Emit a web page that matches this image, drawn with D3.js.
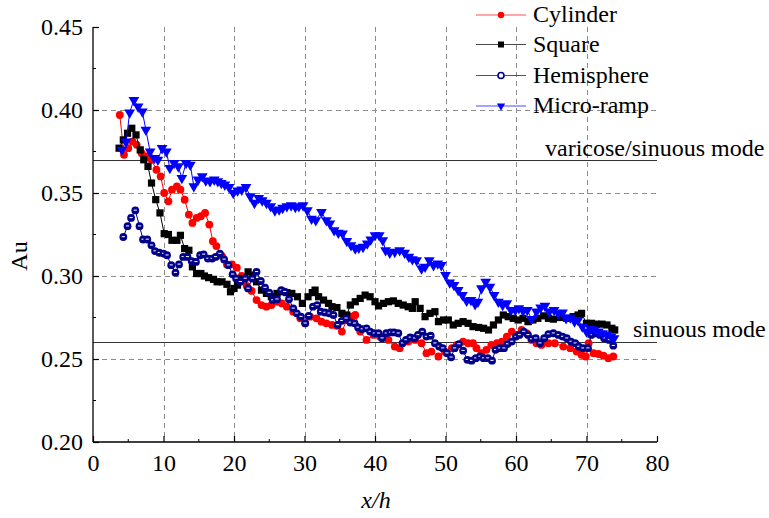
<!DOCTYPE html>
<html><head><meta charset="utf-8">
<script src="https://cdn.jsdelivr.net/npm/d3@7"></script>
<style>body{margin:0;background:#fff}svg{display:block}svg text{font-family:"Liberation Serif","Times New Roman",serif !important;fill:#000}</style>
</head><body>
<script>
const cylX=[3.8,4.4,5.0,5.6,6.2,6.9,7.5,8.3,9.0,9.6,10.1,10.7,11.2,11.9,12.4,13.0,13.6,14.1,14.7,15.3,15.9,16.5,17.0,17.5,18.3,19.0,19.7,20.4,21.1,21.8,22.5,23.2,23.9,24.6,25.3,26.1,26.8,27.5,28.4,29.4,30.1,30.8,31.7,32.4,33.1,33.9,34.6,35.3,36.0,36.7,37.2,37.9,38.8,39.8,40.7,41.9,42.8,43.5,44.7,45.7,46.6,47.3,48.0,49.0,49.9,50.9,51.6,52.5,53.2,53.9,54.4,55.1,55.8,56.5,57.3,58.0,58.7,59.4,60.1,60.8,61.5,62.2,62.9,63.6,64.6,65.5,66.7,67.7,68.6,69.3,69.9,70.3,71.0,71.7,72.4,73.1,73.8];
const cylY=[.397,.373,.377,.381,.379,.374,.372,.370,.364,.360,.350,.345,.352,.354,.352,.346,.337,.332,.335,.336,.338,.331,.321,.318,.312,.307,.307,.305,.300,.294,.291,.2855,.2825,.2815,.2825,.2845,.2835,.2815,.2785,.2745,.2715,.2755,.2745,.2725,.2715,.2705,.270,.2665,.2735,.2755,.2765,.2665,.2615,.2645,.2635,.2615,.2575,.2565,.2605,.2615,.2595,.2535,.2545,.2515,.2545,.2565,.2585,.2605,.2595,.2595,.2565,.2535,.2555,.2585,.2595,.2605,.2635,.2665,.2645,.2675,.2655,.2615,.2595,.2585,.2595,.2595,.2575,.2565,.2545,.2525,.2515,.2595,.2535,.253,.252,.2505,.2515];
const sqX=[3.7,4.3,4.9,5.5,6.1,6.7,7.2,7.8,8.3,8.9,9.5,10.1,10.7,11.2,11.9,12.4,13.0,13.6,14.1,14.7,15.3,15.8,16.4,17.1,17.6,18.3,19.0,19.5,20.0,20.5,21.2,22.0,22.6,23.2,23.9,24.6,25.3,26.1,26.8,27.5,28.2,29.0,29.7,30.5,31.1,31.5,32.0,32.7,33.4,33.9,34.6,35.3,36.0,36.5,37.2,37.9,38.6,39.3,40.0,40.5,41.2,41.9,42.6,43.3,44.0,44.7,45.3,45.7,46.4,47.1,47.8,48.5,49.0,49.7,50.4,51.1,51.8,52.5,53.2,53.9,54.7,55.4,56.1,56.8,57.5,58.2,58.9,59.6,60.3,61.0,61.7,62.4,63.1,63.9,64.6,65.3,66.2,67.2,68.1,68.8,69.3,70.0,70.7,71.4,72.2,72.9,73.6,74.0];
const sqY=[.377,.382,.386,.389,.385,.376,.370,.366,.356,.346,.338,.3255,.325,.3215,.3215,.3245,.3165,.3155,.3055,.3015,.3015,.300,.299,.298,.2965,.2965,.295,.2905,.2925,.2945,.2985,.3025,.3005,.2965,.2915,.2895,.2875,.2895,.2905,.290,.2895,.2875,.2835,.2875,.290,.2915,.2875,.2855,.2835,.2815,.281,.2775,.2765,.2825,.2845,.2865,.2885,.2875,.2845,.282,.2835,.2845,.285,.2835,.2825,.2815,.2805,.2845,.2805,.2755,.2775,.2785,.2725,.2735,.2735,.2705,.2715,.2725,.2715,.2695,.269,.2685,.2675,.2705,.2735,.2765,.2755,.2745,.2735,.2745,.2725,.2735,.2745,.276,.2745,.274,.275,.2745,.2755,.2765,.2775,.2715,.2715,.271,.271,.2705,.2685,.2675];
const hemX=[4.3,4.9,5.4,6.0,6.6,7.1,7.7,8.3,8.8,9.4,10.0,10.5,11.1,11.7,12.2,12.8,13.4,14.0,14.6,15.2,15.7,16.3,16.9,17.4,18.0,18.6,19.2,19.8,20.3,20.9,21.6,22.0,22.6,23.2,23.8,24.4,25.0,25.5,26.1,26.7,27.2,27.8,28.4,28.9,29.5,30.1,30.6,31.2,31.8,32.3,32.9,33.5,34.1,34.7,35.3,35.9,36.5,37.1,37.6,38.2,38.8,39.3,39.9,40.5,41.0,41.6,42.2,42.7,43.3,43.9,44.4,45.0,45.6,46.1,46.7,47.3,47.9,48.5,49.1,49.6,50.2,50.8,51.3,51.9,52.5,53.1,53.7,54.3,54.9,55.4,56.0,56.6,57.1,57.7,58.3,58.8,59.4,60.0,60.5,61.1,61.7,62.2,62.8,63.4,64.0,64.6,65.3,66.0,66.6,67.2,67.8,68.4,68.9,69.5,70.2,70.7,71.3,71.9,72.5,73.2,73.8];
const hemY=[.3235,.330,.335,.3395,.330,.322,.322,.3185,.315,.314,.3135,.3125,.3065,.302,.307,.3115,.3115,.309,.3085,.3125,.313,.3105,.3105,.3115,.3135,.310,.3065,.301,.2985,.2965,.2985,.2925,.2985,.3025,.297,.293,.290,.2855,.286,.2915,.2905,.286,.2805,.2775,.2755,.2715,.276,.2815,.2825,.2785,.278,.2775,.2765,.2705,.273,.2745,.272,.2715,.269,.268,.2685,.2665,.2655,.2655,.2625,.2655,.266,.266,.2655,.2595,.2615,.263,.2625,.2645,.2665,.2635,.264,.2595,.2575,.2565,.2535,.251,.2565,.259,.255,.2495,.249,.2505,.2515,.2505,.2505,.249,.2555,.2565,.2565,.259,.2605,.2635,.2645,.2665,.2645,.262,.2625,.2595,.2625,.265,.2655,.2645,.2635,.2625,.2605,.2595,.2575,.2565,.2565,.2645,.2655,.2645,.2625,.2615,.258];
const mrX=[4.1,4.7,5.2,5.8,6.4,7.0,7.5,8.1,8.7,9.2,9.8,10.4,10.9,11.5,12.1,12.6,13.2,13.8,14.3,14.9,15.5,16.0,16.6,17.2,17.7,18.2,18.7,19.3,19.9,20.5,21.1,21.7,22.3,22.9,23.5,24.0,24.6,25.2,25.8,26.4,26.9,27.5,28.1,28.7,29.2,29.8,30.4,31.0,31.6,32.4,33.1,33.6,34.2,34.8,35.4,36.0,36.6,37.2,37.7,38.3,38.9,39.4,40.0,40.6,41.1,41.5,42.1,42.8,43.5,44.2,44.8,45.3,45.9,46.6,47.1,47.7,48.3,48.9,49.4,50.0,50.6,51.2,51.8,52.4,53.0,53.6,54.2,54.6,55.1,55.7,56.3,56.9,57.5,58.1,58.7,59.3,59.9,60.4,61.0,61.6,62.2,62.9,63.5,64.1,64.7,65.4,66.0,66.6,67.1,67.7,68.3,68.8,69.4,70.0,70.6,71.1,71.7,72.3,72.9,73.5,73.9];
const mrY=[.376,.381,.3985,.406,.402,.399,.388,.375,.371,.370,.377,.375,.365,.368,.366,.359,.368,.367,.354,.358,.360,.3575,.357,.358,.357,.356,.355,.3535,.350,.3515,.352,.3535,.348,.344,.347,.3455,.344,.342,.3395,.340,.341,.342,.3425,.3415,.342,.3425,.3395,.3345,.3335,.3385,.3335,.3315,.3275,.326,.3255,.321,.3185,.3165,.317,.3175,.3195,.322,.3245,.3245,.3215,.3155,.314,.3145,.3155,.314,.3115,.310,.3095,.3045,.3055,.3095,.3065,.3075,.3065,.3005,.296,.2945,.2915,.2885,.285,.2855,.283,.2845,.2925,.2965,.2935,.2885,.2845,.2825,.2835,.2795,.2795,.2805,.279,.2795,.274,.2785,.281,.282,.2785,.2795,.2775,.278,.2745,.275,.2725,.2735,.2695,.2665,.268,.2675,.2665,.2655,.2645,.2635,.2625];
const seriesNames=["Cylinder","Square","Hemisphere","Micro-ramp"];
const xTicks=[0,10,20,30,40,50,60,70,80];
const yTicks=[0.20,0.25,0.30,0.35,0.40,0.45];
const refLevels=[0.37,0.26];
const refLabels=["varicose/sinuous mode","sinuous mode"];

const W=769,H=518,FS=24;
const svg=d3.select("body").append("svg").attr("width",W).attr("height",H);
const x=d3.scaleLinear().domain([0,80]).range([93,657]);
const y=d3.scaleLinear().domain([0.20,0.45]).range([442,27]);

// grid
const g=svg.append("g");
g.selectAll(".vg").data(xTicks.filter(t=>t>0&&t<80)).join("line")
 .attr("x1",d=>Math.round(x(d))+0.5).attr("x2",d=>Math.round(x(d))+0.5).attr("y1",y(0.45)).attr("y2",y(0.20))
 .attr("stroke","#8c8c8c").attr("stroke-width",1).attr("stroke-dasharray","5,4");
g.selectAll(".hg").data(yTicks.filter(t=>t>0.2&&t<0.45)).join("line")
 .attr("x1",x(0)).attr("x2",x(80)).attr("y1",d=>Math.round(y(d))+0.5).attr("y2",d=>Math.round(y(d))+0.5)
 .attr("stroke","#8c8c8c").attr("stroke-width",1).attr("stroke-dasharray","5,4");

// reference lines
svg.selectAll(".ref").data(refLevels).join("line")
 .attr("x1",x(0)).attr("x2",x(80)).attr("y1",d=>Math.round(y(d))+0.5).attr("y2",d=>Math.round(y(d))+0.5)
 .attr("stroke","#333").attr("stroke-width",1);
svg.append("text").attr("x",545).attr("y",y(0.37)-4).attr("font-size",FS).text(refLabels[0]);
svg.append("text").attr("x",633).attr("y",y(0.26)-5).attr("font-size",FS).text(refLabels[1]);

// axes
const xAxis=d3.axisBottom(x).tickValues(xTicks).tickSize(-6).tickPadding(12).tickFormat(d3.format("d"));
const xa=svg.append("g").attr("transform",`translate(0,${y(0.20)})`).call(xAxis);
const yAxis=d3.axisLeft(y).tickValues(yTicks).tickSize(-6).tickPadding(10).tickFormat(d3.format(".2f"));
const ya=svg.append("g").attr("transform",`translate(${x(0)},0)`).call(yAxis);
[xa,ya].forEach(a=>{a.attr("font-family",null);
 a.select(".domain").attr("stroke","#000").attr("stroke-width",1.3);
 a.selectAll(".tick line").attr("stroke","#000").attr("stroke-width",1.2);
 a.selectAll("text").attr("font-size",FS).attr("fill","#000");});
xa.select(".domain").attr("d",`M${x(0)},0H${x(80)}`);
ya.select(".domain").attr("d",`M0,${y(0.45)}V${y(0.20)}`);
// minor ticks
svg.selectAll(".mx").data([5,15,25,35,45,55,65,75]).join("line")
 .attr("x1",d=>x(d)).attr("x2",d=>x(d)).attr("y1",y(0.2)).attr("y2",y(0.2)-3).attr("stroke","#000");
svg.selectAll(".my").data([0.225,0.275,0.325,0.375,0.425]).join("line")
 .attr("x1",x(0)).attr("x2",x(0)+3).attr("y1",d=>y(d)).attr("y2",d=>y(d)).attr("stroke","#000");

svg.append("text").attr("transform","translate(27,256) rotate(-90)").attr("text-anchor","middle").attr("font-size",FS).text("Au");
svg.append("text").attr("x",376).attr("y",508).attr("text-anchor","middle").attr("font-size",FS).attr("font-style","italic").text("x/h");

// series
const colors=["#ff0000","#000000","#00008b","#0000ff"];
const data=[[cylX,cylY],[sqX,sqY],[hemX,hemY],[mrX,mrY]].map(([xs,ys])=>xs.map((v,i)=>[v,ys[i]]));
const line=d3.line().x(d=>x(d[0])).y(d=>y(d[1]));
function marker(sel,k){
 if(k===0){sel.append("circle").attr("r",3.9).attr("fill",colors[0]);}
 else if(k===1){sel.append("rect").attr("x",-3.6).attr("y",-3.6).attr("width",7.2).attr("height",7.2).attr("fill","#000");}
 else if(k===2){sel.append("circle").attr("r",3.9).attr("fill",colors[2]);
  sel.append("line").attr("x1",-1.6).attr("x2",1.6).attr("y1",-0.3).attr("y2",-0.3).attr("stroke","#fff").attr("stroke-width",1);}
 else {sel.append("path").attr("d",d3.symbol(d3.symbolTriangle,50)()).attr("transform","rotate(180)").attr("fill",colors[3]);}
}
data.forEach((pts,k)=>{
 svg.append("path").datum(pts).attr("d",line).attr("fill","none").attr("stroke",colors[k]).attr("stroke-width",1);
 const gg=svg.append("g");
 pts.forEach(p=>{const m=gg.append("g").attr("transform",`translate(${x(p[0])},${y(p[1])})`);marker(m,k);});
});

// legend
const legY=[15,44.5,75.5,106];
seriesNames.forEach((n,k)=>{
 svg.append("line").attr("x1",476).attr("x2",526).attr("y1",legY[k]).attr("y2",legY[k]).attr("stroke",colors[k]).attr("stroke-width",1).attr("opacity",0.7);
 const m=svg.append("g").attr("transform",`translate(501,${legY[k]})`);
 if(k===0)m.append("circle").attr("r",3.2).attr("fill",colors[0]);
 else if(k===1)m.append("rect").attr("x",-3).attr("y",-3).attr("width",6).attr("height",6).attr("fill","#000");
 else if(k===2)m.append("circle").attr("r",3).attr("fill","#fff").attr("stroke",colors[2]).attr("stroke-width",1.6);
 else m.append("path").attr("d",d3.symbol(d3.symbolTriangle,30)()).attr("transform","rotate(180)").attr("fill",colors[3]);
 svg.append("text").attr("x",533).attr("y",legY[k]+7).attr("font-size",FS).text(n);
});
</script>
</body></html>
